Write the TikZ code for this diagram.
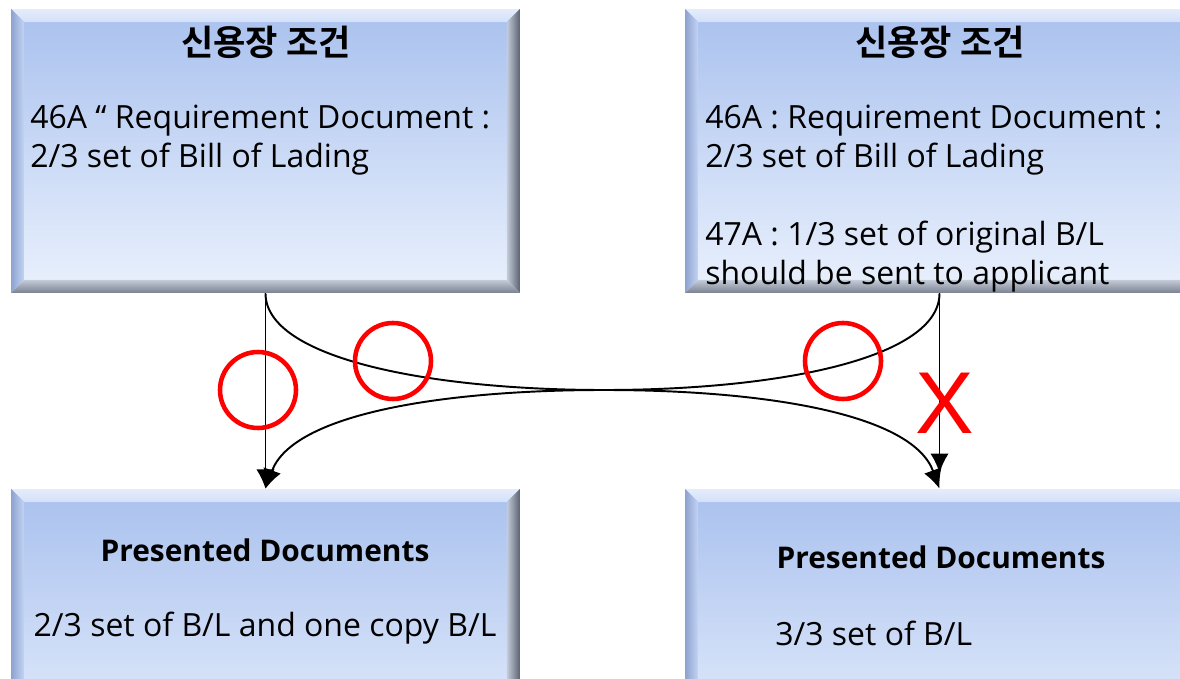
\documentclass[tikz,border=0pt]{standalone}
\usepackage{fontspec}
\setmainfont{Open Sans}
\setsansfont{Liberation Sans}
\newfontfamily\kor{Noto Sans CJK KR}[BoldFont={Noto Sans CJK KR Bold}]
\usetikzlibrary{arrows.meta,calc,positioning}

\definecolor{panelTop}{HTML}{A9C1EE}
\definecolor{panelBot}{HTML}{EAF1FD}
\definecolor{bevelHi}{HTML}{D3E0F9}
\definecolor{bevelLeft}{HTML}{8EA2CF}
\definecolor{bevelDark}{HTML}{5A6272}
\definecolor{bevelGrey}{HTML}{C3CAD8}
\definecolor{mark}{HTML}{FF0000}

% bevel width of the panels
\def\bev{0.26cm}

\tikzset{
  panel/.style={rectangle, inner sep=0pt, minimum width=10.18cm,
    minimum height=5.68cm, top color=panelTop, bottom color=panelBot,
    path picture={
      \coordinate (nw) at (path picture bounding box.north west);
      \coordinate (ne) at (path picture bounding box.north east);
      \coordinate (sw) at (path picture bounding box.south west);
      \coordinate (se) at (path picture bounding box.south east);
      % top edge
      \shade[top color=bevelHi!60!white, bottom color=bevelHi]
        (nw) -- (ne) -- ($(ne)+(-\bev,-\bev)$) -- ($(nw)+(\bev,-\bev)$) -- cycle;
      % left edge
      \shade[left color=bevelLeft, right color=panelTop!70!white]
        (nw) -- ($(nw)+(\bev,-\bev)$) -- ($(sw)+(\bev,\bev)$) -- (sw) -- cycle;
      % right edge
      \shade[left color=bevelGrey, right color=bevelDark]
        (ne) -- ($(ne)+(-\bev,-\bev)$) -- ($(se)+(-\bev,\bev)$) -- (se) -- cycle;
      % bottom edge
      \shade[top color=bevelGrey, bottom color=bevelDark!80!white]
        (sw) -- ($(sw)+(\bev,\bev)$) -- ($(se)+(-\bev,\bev)$) -- (se) -- cycle;
    }},
  heading/.style={inner sep=0pt, font=\kor\bfseries\fontsize{20}{24}\selectfont},
  docs/.style={inner sep=0pt, font=\bfseries\fontsize{17}{20}\selectfont},
  body/.style={inner sep=0pt, align=left, font=\fontsize{18.2}{22}\selectfont},
  flow/.style={->, line width=1.1pt},
  ok/.style={draw=mark, line width=2.6pt},
}

\begin{document}
\begin{tikzpicture}[x=0.02cm, y=-0.02cm, >={Latex[length=11pt,width=10.5pt]}]
  \path[use as bounding box, clip] (0,0) rectangle (1180,679);

  % letter of credit terms (top) and presented documents (bottom)
  \node[panel] (LC1) at (265.5,151) {};
  \node[panel] (LC2) at (939.5,151) {};
  \node[panel] (PD1) at (265.5,631) {};
  \node[panel] (PD2) at (939.5,631) {};

  \node[heading] (H1) at (266,42) {신용장 조건};
  \node[heading] (H2) at (940,42) {신용장 조건};

  \node[body, anchor=north west] (T1) at (30,105)
    {46A “ Requirement Document :\\2/3 set of Bill of Lading};
  \node[body, anchor=north west] (T2) at (705,105)
    {46A : Requirement Document :\\2/3 set of Bill of Lading};
  \node[body, anchor=north west] (T3) at (705,221)
    {47A : 1/3 set of original B/L\\should be sent to applicant};

  \node[docs] (D1) at (265,550) {Presented Documents};
  \node[docs] (D2) at (941,557) {Presented Documents};
  \node[body] (B1) at (265,628) {2/3 set of B/L and one copy B/L};
  \node[body, anchor=west] (B2) at (775,633) {3/3 set of B/L};

  % where the two curves touch
  \coordinate (mid) at (604,390);

  % straight arrows
  \draw[flow] (LC1.south) -- (PD1.north);
  \draw[flow, shorten >=9pt] (LC2.south) -- (PD2.north);

  % crossing arrows
  \draw[flow] (LC1.south) to[out=-90, in=180, out distance=1.3cm, in distance=3.5cm] (mid)
    to[out=0, in=110, out distance=3.2cm, in distance=1.6cm] (PD2.north);
  \draw[flow] (LC2.south) to[out=-90, in=0, out distance=1.3cm, in distance=3.5cm] (mid)
    to[out=180, in=70, out distance=3.2cm, in distance=1.6cm] (PD1.north);

  % marks
  \node[ok, circle, minimum size=1.52cm] (C1) at (258,390) {};
  \node[ok, circle, minimum size=1.52cm] (C2) at (393,361) {};
  \node[ok, circle, minimum size=1.52cm] (C3) at (843,361) {};
  \node[text=mark, font=\sffamily\fontsize{50}{50}\selectfont] (X1) at (945,403) {X};
\end{tikzpicture}
\end{document}
